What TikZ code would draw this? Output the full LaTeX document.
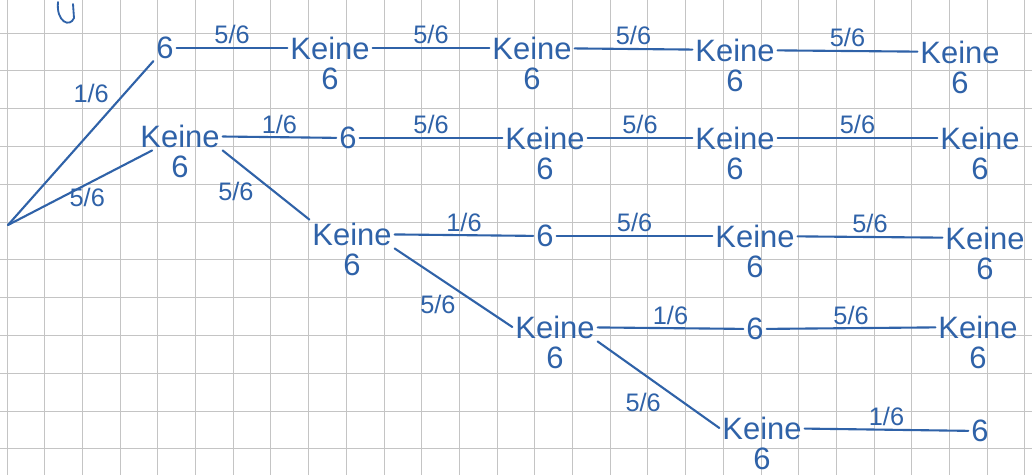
\documentclass[tikz,border=0pt]{standalone}
\usepackage{fontspec}
\setmainfont{Liberation Sans}
\definecolor{ink}{HTML}{2F62A8}
\definecolor{paper}{HTML}{C4C4C4}

\begin{document}
\begin{tikzpicture}[
    x=0.025cm, y=-0.025cm,
    every node/.style={font=\fontsize{22}{24}\selectfont, text=ink, inner sep=2pt},
    keine/.style={label={[label distance=2pt]below:6}},
    prob/.style={font=\fontsize{18}{20}\selectfont, inner sep=2pt},
    branch/.style={draw=ink, line width=1.5pt, line cap=round},
    gridline/.style={draw=paper, line width=0.6pt},
]
\fill[white] (0,0) rectangle (1032,475);
\useasboundingbox (0,0) rectangle (1032,475);
\foreach \i in {0,...,27} \draw[gridline] ({7+37.7*\i},0) -- ({7+37.7*\i},475);
\foreach \j in {0,...,11} \draw[gridline] (0,{33+37.8*\j}) -- (1032,{33+37.8*\j});

% scribble at the top edge
\draw[branch, line width=1.3pt] (58,2) .. controls (56,22) and (70,28) .. (74,18) -- (73,4);

\coordinate (root) at (8,225);
% row 1
\node (n11) at (165,48) {6};
\node[keine] (k12) at (330,48) {Keine};
\node[keine] (k13) at (532,48) {Keine};
\node[keine] (k14) at (735,50) {Keine};
\node[keine] (k15) at (960,52) {Keine};
% row 2
\node[keine] (k21) at (180,136) {Keine};
\node (n22) at (348,138) {6};
\node[keine] (k23) at (545,138) {Keine};
\node[keine] (k24) at (735,138) {Keine};
\node[keine] (k25) at (980,138) {Keine};
% row 3
\node[keine] (k31) at (352,234) {Keine};
\node (n32) at (545,236) {6};
\node[keine] (k33) at (755,236) {Keine};
\node[keine] (k34) at (985,238) {Keine};
% row 4
\node[keine] (k41) at (555,327) {Keine};
\node (n42) at (755,329) {6};
\node[keine] (k43) at (978,327) {Keine};
% row 5
\node[keine] (k51) at (762,428) {Keine};
\node (n52) at (980,431) {6};

\draw[branch] (root) -- node[prob, pos=0.72, above left] {1/6} (n11);
\draw[branch] (root) -- node[prob, pos=0.55, below] {5/6} (k21);
\draw[branch] (k21.south east) -- node[prob, pos=0.4, below left] {5/6} (k31.north west);
\draw[branch] (k31.south east) -- node[prob, pos=0.55, below left] {5/6} (k41.west);
\draw[branch] (k41.south east) -- node[prob, pos=0.55, below left] {5/6} (k51.west);

\draw[branch] (n11) -- node[prob, above] {5/6} (k12);
\draw[branch] (k12) -- node[prob, above] {5/6} (k13);
\draw[branch] (k13) -- node[prob, above] {5/6} (k14);
\draw[branch] (k14) -- node[prob, above] {5/6} (k15);

\draw[branch] (k21) -- node[prob, above] {1/6} (n22);
\draw[branch] (n22) -- node[prob, above] {5/6} (k23);
\draw[branch] (k23) -- node[prob, above] {5/6} (k24);
\draw[branch] (k24) -- node[prob, above] {5/6} (k25);

\draw[branch] (k31) -- node[prob, above] {1/6} (n32);
\draw[branch] (n32) -- node[prob, above] {5/6} (k33);
\draw[branch] (k33) -- node[prob, above] {5/6} (k34);

\draw[branch] (k41) -- node[prob, above] {1/6} (n42);
\draw[branch] (n42) -- node[prob, above] {5/6} (k43);

\draw[branch] (k51) -- node[prob, above] {1/6} (n52);
\end{tikzpicture}
\end{document}
